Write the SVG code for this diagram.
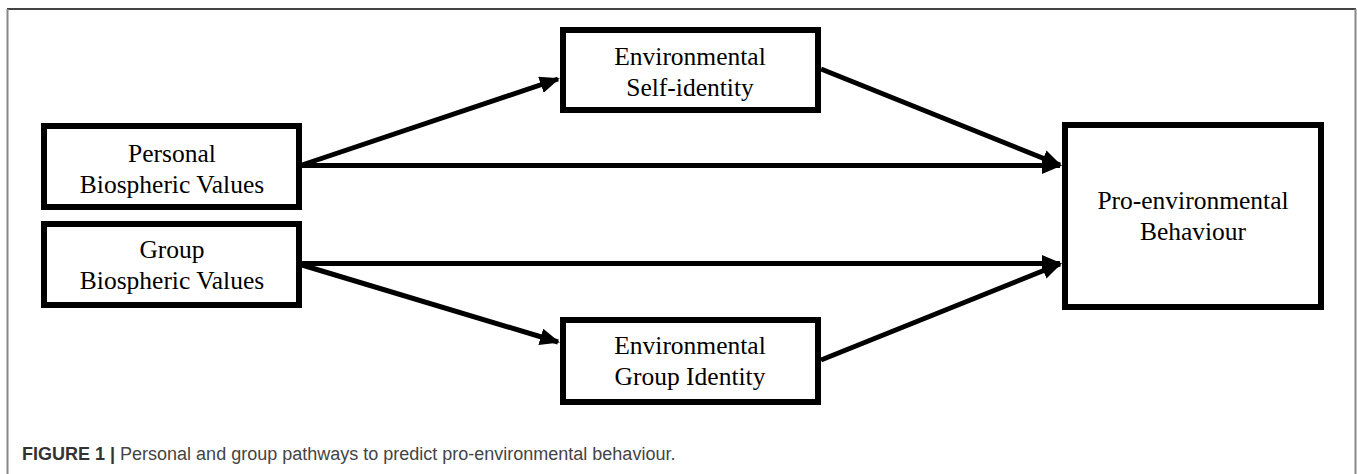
<svg xmlns="http://www.w3.org/2000/svg" width="1357" height="474" viewBox="0 0 1357 474">
<defs>
<style>
.box{fill:#fff;stroke:#000;stroke-width:6}
.lbl{font-family:"Liberation Serif","Times New Roman",serif;font-size:25.5px;fill:#000;text-anchor:middle}
.edge{stroke:#000;stroke-width:5;fill:none}
.cap{font-family:"Liberation Sans",Arial,sans-serif;font-size:18px;fill:#444}
</style>
<marker id="ah" viewBox="0 0 10 10" refX="9" refY="5" markerWidth="4" markerHeight="3.4" orient="auto" markerUnits="strokeWidth" preserveAspectRatio="none">
<path d="M0,0 L10,5 L0,10 z" fill="#000"/>
</marker>
</defs>
<rect width="1357" height="474" fill="#fff"/>
<g id="frame">
<line x1="7" y1="9" x2="1356" y2="9" stroke="#444" stroke-width="2"/>
<line x1="7.5" y1="9" x2="7.5" y2="474" stroke="#888" stroke-width="2"/>
<line x1="1355.5" y1="9" x2="1355.5" y2="474" stroke="#888" stroke-width="2"/>
</g>
<g id="connectors">
<line class="edge" x1="302" y1="165" x2="558" y2="79" marker-end="url(#ah)"/>
<line class="edge" x1="302" y1="165.5" x2="1060" y2="165.5" marker-end="url(#ah)"/>
<line class="edge" x1="821" y1="69" x2="1060" y2="165" marker-end="url(#ah)"/>
<line class="edge" x1="302" y1="263.5" x2="1060" y2="263.5" marker-end="url(#ah)"/>
<line class="edge" x1="302" y1="265" x2="558" y2="342" marker-end="url(#ah)"/>
<line class="edge" x1="821" y1="360" x2="1060" y2="264" marker-end="url(#ah)"/>
</g>
<g id="personal">
<rect class="box" x="44" y="126" width="255" height="81"/>
<text class="lbl" x="172" y="162">Personal</text>
<text class="lbl" x="172" y="193">Biospheric Values</text>
</g>
<g id="group">
<rect class="box" x="44" y="224" width="255" height="81"/>
<text class="lbl" x="172" y="258">Group</text>
<text class="lbl" x="172" y="289">Biospheric Values</text>
</g>
<g id="selfidentity">
<rect class="box" x="563" y="30" width="255" height="80"/>
<text class="lbl" x="690" y="65">Environmental</text>
<text class="lbl" x="690" y="96">Self-identity</text>
</g>
<g id="groupidentity">
<rect class="box" x="563" y="320" width="255" height="82"/>
<text class="lbl" x="690" y="354">Environmental</text>
<text class="lbl" x="690" y="385">Group Identity</text>
</g>
<g id="behaviour">
<rect class="box" x="1065" y="125" width="256" height="182"/>
<text class="lbl" x="1193" y="209">Pro-environmental</text>
<text class="lbl" x="1193" y="240">Behaviour</text>
</g>
<g id="caption">
<text class="cap" x="22" y="460"><tspan font-weight="bold" fill="#333">FIGURE 1 | </tspan>Personal and group pathways to predict pro-environmental behaviour.</text>
</g>
</svg>
